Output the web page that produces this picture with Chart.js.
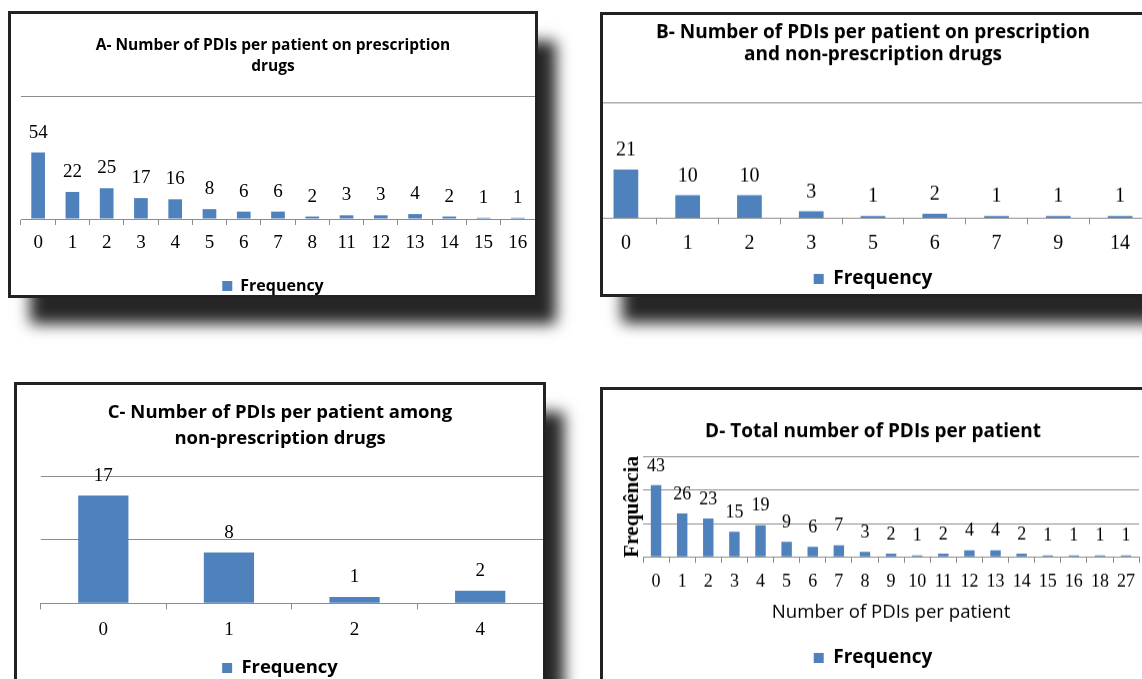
<!DOCTYPE html>
<html>
<head>
<meta charset="utf-8">
<script src="https://cdn.jsdelivr.net/npm/chart.js@4.4.0/dist/chart.umd.min.js"></script>
<style>
  body { margin: 0; width: 1142px; height: 679px; overflow: hidden; background: #fff; position: relative; }
  .panel { position: absolute; border: 3px solid #222; background: #fff; overflow: hidden;
           box-shadow: 20px 28px 14px -2px rgba(0,0,0,0.85); }
  .wrap { position: absolute; }
</style>
</head>
<body>
<div class="panel" style="left:8px;top:11px;width:524px;height:281px">
  <div class="wrap" style="left:0;top:0;width:524px;height:290px"><canvas id="chartA"></canvas></div>
</div>
<div class="panel" style="left:600px;top:12px;width:560px;height:279px">
  <div class="wrap" style="left:-8px;top:0;width:556px;height:282.5px"><canvas id="chartB"></canvas></div>
</div>
<div class="panel" style="left:14px;top:382px;width:526px;height:320px">
  <div class="wrap" style="left:0;top:0;width:526px;height:302.25px"><canvas id="chartC"></canvas></div>
</div>
<div class="panel" style="left:600px;top:387px;width:560px;height:320px">
  <div class="wrap" style="left:0;top:0;width:540px;height:286.5px"><canvas id="chartD"></canvas></div>
</div>

<script>
// A - prescription drugs
const aLabels = ["0", "1", "2", "3", "4", "5", "6", "7", "8", "11", "12", "13", "14", "15", "16"];
const aValues = [54, 22, 25, 17, 16, 8, 6, 6, 2, 3, 3, 4, 2, 1, 1];
// B - prescription and non-prescription
const bLabels = ["0", "1", "2", "3", "5", "6", "7", "9", "14"];
const bValues = [21, 10, 10, 3, 1, 2, 1, 1, 1];
// C - non-prescription
const cLabels = ["0", "1", "2", "4"];
const cValues = [17, 8, 1, 2];
// D - total
const dLabels = ["0", "1", "2", "3", "4", "5", "6", "7", "8", "9", "10", "11", "12", "13", "14", "15", "16", "18", "27"];
const dValues = [43, 26, 23, 15, 19, 9, 6, 7, 3, 2, 1, 2, 4, 4, 2, 1, 1, 1, 1];

const BLUE = "#4f81bd";
const GREY = "#8c8c8c";
Chart.defaults.font.family = "'Liberation Serif', serif";
Chart.defaults.color = "#000";

// value on top of every bar
const valueLabels = {
  id: "valueLabels",
  afterDatasetsDraw(chart, args, opts) {
    const ctx = chart.ctx;
    const meta = chart.getDatasetMeta(0);
    const data = chart.data.datasets[0].data;
    ctx.save();
    ctx.font = opts.size + "px 'Liberation Serif', serif";
    ctx.fillStyle = "#000";
    ctx.textAlign = "center";
    ctx.textBaseline = "middle";
    meta.data.forEach((bar, i) => {
      ctx.fillText(String(data[i]), bar.x, bar.y - opts.offset);
    });
    ctx.restore();
  }
};

function makeChart(id, labels, values, o) {
  return new Chart(document.getElementById(id), {
    type: "bar",
    data: {
      labels: labels,
      datasets: [{
        label: "Frequency",
        data: values,
        backgroundColor: BLUE,
        categoryPercentage: 1,
        barPercentage: 0.4
      }]
    },
    plugins: [valueLabels],
    options: {
      responsive: true,
      maintainAspectRatio: false,
      animation: false,
      layout: { padding: 0 },
      plugins: {
        title: {
          display: true,
          text: o.title,
          color: "#000",
          font: { family: "'Open Sans', sans-serif", weight: "bold", size: o.titleSize, lineHeight: o.titleLH },
          padding: { top: o.titleTop, bottom: o.titleBottom }
        },
        legend: {
          position: "bottom",
          labels: {
            boxWidth: 10, boxHeight: 10, padding: o.legendPad, color: "#000",
            font: { family: "'Open Sans', sans-serif", weight: "bold", size: o.legendSize }
          }
        },
        tooltip: { enabled: false },
        valueLabels: { size: o.valueSize, offset: o.valueOffset }
      },
      scales: {
        x: {
          grid: { display: true, drawOnChartArea: false, drawTicks: true, tickLength: 6, color: GREY },
          border: { display: true, color: GREY, width: 1 },
          ticks: { autoSkip: false, maxRotation: 0, padding: o.tickPad, color: "#000",
                   font: { size: o.tickSize } },
          title: o.xTitle ? {
            display: true, text: o.xTitle, color: "#000",
            font: { family: "'Open Sans', sans-serif", size: 18.6 },
            padding: { top: 0, bottom: o.xTitleBottom }
          } : { display: false },
          afterFit(s) { s.height = o.xHeight; }
        },
        y: {
          min: 0, max: o.yMax,
          ticks: { display: false, stepSize: o.yStep },
          grid: { color: GREY, drawTicks: false, lineWidth: 1 },
          border: { display: false },
          title: o.yTitle ? {
            display: true, text: o.yTitle, color: "#000",
            font: { family: "'Liberation Serif', serif", weight: "bold", size: 21, lineHeight: 1.1 },
            padding: { top: o.yTitleTop, bottom: 0 }
          } : { display: false },
          afterFit(s) { s.width = o.yWidth; }
        }
      }
    }
  });
}

makeChart("chartA", aLabels, aValues, {
  title: ["A- Number of PDIs per patient on prescription", "drugs"],
  titleSize: 15.5, titleLH: 21 / 15.5, titleTop: 21.5, titleBottom: 18.5,
  legendSize: 16, legendPad: 8, valueSize: 19, valueOffset: 20,
  tickSize: 19, tickPad: 6.6, xHeight: 51, yWidth: 10, yMax: 100, yStep: 100
});

makeChart("chartB", bLabels, bValues, {
  title: ["B- Number of PDIs per patient on prescription", "and non-prescription drugs"],
  titleSize: 19, titleLH: 22 / 19, titleTop: 7, titleBottom: 36,
  legendSize: 19, legendPad: 10, valueSize: 20, valueOffset: 19,
  tickSize: 20, tickPad: 7, xHeight: 41, yWidth: 0, yMax: 50, yStep: 50
});

makeChart("chartC", cLabels, cValues, {
  title: ["C- Number of PDIs per patient among", "non-prescription drugs"],
  titleSize: 18.5, titleLH: 26 / 18.5, titleTop: 15, titleBottom: 24.5,
  legendSize: 18.5, legendPad: 10, valueSize: 19, valueOffset: 20,
  tickSize: 19, tickPad: 9.3, xHeight: 45.45, yWidth: 23.5, yMax: 20, yStep: 10
});

makeChart("chartD", dLabels, dValues, {
  title: "D- Total number of PDIs per patient",
  titleSize: 19, titleLH: 1.3, titleTop: 29.65, titleBottom: 12.15,
  legendSize: 19, legendPad: 10, valueSize: 18, valueOffset: 19,
  tickSize: 18, tickPad: 7.9, xHeight: 81.2, yWidth: 40, yMax: 60, yStep: 20,
  xTitle: "Number of PDIs per patient", xTitleBottom: 14.35,
  yTitle: "Frequência", yTitleTop: 18
});
</script>
</body>
</html>
